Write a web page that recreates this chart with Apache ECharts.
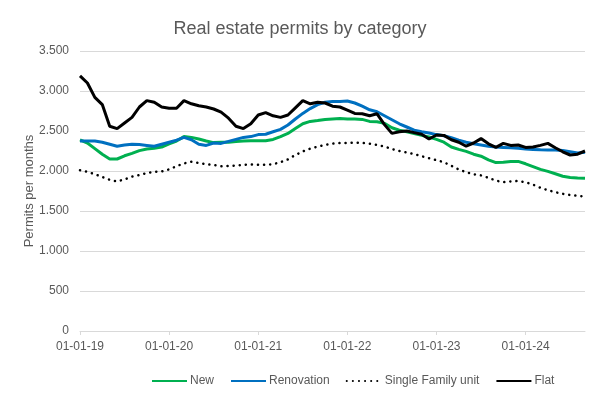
<!DOCTYPE html>
<html>
<head>
<meta charset="utf-8">
<script src="https://cdn.jsdelivr.net/npm/echarts@6/dist/echarts.min.js"></script>
<style>
  html, body { margin: 0; padding: 0; background: #fff; }
  #chart { width: 600px; height: 396px; }
</style>
</head>
<body>
<div id="chart"></div>
<script>
// monthly, Jan 2019 .. Sep 2024
var months = [];
for (var y = 19; y <= 24; y++) {
  for (var m = 1; m <= 12; m++) {
    if (y === 24 && m > 9) break;
    months.push('01-' + (m < 10 ? '0' + m : m) + '-' + y);
  }
}

var newPermits = [
  2390, 2350, 2280, 2210, 2150, 2150, 2190, 2220, 2255, 2275, 2285, 2300,
  2340, 2375, 2430, 2420, 2400, 2375, 2355, 2358, 2358, 2370, 2375, 2378,
  2378, 2378, 2395, 2430, 2470, 2530, 2590, 2620, 2630, 2645, 2650, 2655,
  2650, 2650, 2645, 2620, 2615, 2595, 2540, 2510, 2490, 2468, 2445, 2425,
  2395, 2360, 2300, 2270, 2245, 2210, 2185, 2140, 2105, 2110, 2120, 2120,
  2090, 2055, 2020, 1995, 1965, 1935, 1920, 1912, 1910
];
var renovation = [
  2375, 2375, 2375, 2360, 2335, 2310, 2325, 2335, 2330, 2320, 2310, 2335,
  2360, 2385, 2420, 2390, 2335, 2320, 2350, 2345, 2370, 2395, 2420, 2430,
  2455, 2460, 2490, 2520, 2575, 2650, 2720, 2780, 2830, 2860, 2870, 2870,
  2875, 2850, 2810, 2765, 2740, 2690, 2640, 2590, 2550, 2510, 2490, 2475,
  2455, 2440, 2415, 2385, 2360, 2340, 2325, 2310, 2300, 2295, 2290, 2283,
  2275, 2270, 2265, 2263, 2263, 2255, 2240, 2225, 2235
];
var singleFamily = [
  2010, 1990, 1960, 1925, 1890, 1870, 1895, 1930, 1950, 1975, 1990, 1995,
  2020, 2060, 2095, 2115, 2100, 2085, 2075, 2060, 2063, 2068, 2078, 2082,
  2079, 2077, 2085, 2110, 2145, 2200, 2245, 2280, 2305, 2325, 2342, 2350,
  2350, 2354, 2352, 2342, 2325, 2305, 2275, 2250, 2232, 2212, 2185, 2160,
  2135, 2110, 2065, 2020, 1985, 1960, 1945, 1915, 1880, 1860, 1870, 1875,
  1860, 1830, 1790, 1760, 1735, 1715, 1700, 1690, 1680
];
var flat = [
  3190, 3100, 2920, 2830, 2560, 2530, 2600, 2670, 2800, 2880, 2860, 2800,
  2785, 2785, 2880, 2840, 2815, 2800, 2775, 2735, 2660, 2560, 2530, 2590,
  2700, 2730, 2690, 2670, 2700, 2790, 2880, 2840, 2860, 2850, 2810, 2800,
  2760, 2720, 2715, 2690, 2715, 2580, 2470, 2490, 2500, 2480, 2460, 2400,
  2450, 2445, 2390, 2360, 2310, 2350, 2405, 2340, 2295, 2345, 2320, 2325,
  2295, 2300, 2320, 2345, 2290, 2240, 2200, 2210, 2250
];

var txt = '#595959';
var font = 'Liberation Sans, Arial, sans-serif';

var chart = echarts.init(document.getElementById('chart'));

function fmtThousands(v) {
  return String(v).replace(/\B(?=(\d{3})+(?!\d))/g, '.');
}

chart.setOption({
  animation: false,
  title: {
    text: 'Real estate permits by category',
    left: 'center',
    top: 15,
    textStyle: { color: txt, fontSize: 18, fontWeight: 'normal', fontFamily: font }
  },
  legend: {
    left: 146,
    top: 370,
    itemWidth: 35,
    itemHeight: 12,
    itemGap: 16,
    itemStyle: { opacity: 0 },
    textStyle: { color: txt, fontSize: 12, fontFamily: font, padding: [0, 0, 0, -2] },
    data: ['New', 'Renovation', 'Single Family unit', 'Flat']
  },
  grid: { left: 80, right: 15, top: 51, bottom: 65 },
  xAxis: {
    type: 'category',
    data: months,
    boundaryGap: false,
    axisLine: { lineStyle: { color: '#d9d9d9' } },
    axisTick: { interval: 11, length: 4, lineStyle: { color: '#d9d9d9' } },
    axisLabel: { interval: 11, margin: 10, color: txt, fontSize: 12, fontFamily: font }
  },
  yAxis: {
    type: 'value',
    min: 0,
    max: 3500,
    interval: 500,
    name: 'Permits per months',
    nameLocation: 'middle',
    nameGap: 44,
    nameMoveOverlap: false,
    nameTextStyle: { color: txt, fontSize: 13, fontFamily: font },
    axisLine: { show: false },
    axisTick: { show: false },
    axisLabel: { margin: 11, color: txt, fontSize: 12, fontFamily: font, formatter: fmtThousands },
    splitLine: { lineStyle: { color: '#d9d9d9' } }
  },
  series: [
    {
      name: 'New', type: 'line', data: newPermits, symbol: 'none',
      itemStyle: { color: '#00b050' },
      lineStyle: { color: '#00b050', width: 3 }
    },
    {
      name: 'Renovation', type: 'line', data: renovation, symbol: 'none',
      itemStyle: { color: '#0070c0' },
      lineStyle: { color: '#0070c0', width: 3 }
    },
    {
      name: 'Single Family unit', type: 'line', data: singleFamily, symbol: 'none',
      itemStyle: { color: '#000' },
      lineStyle: { color: '#000', width: 2.5, type: [0.1, 6], cap: 'round' }
    },
    {
      name: 'Flat', type: 'line', data: flat, symbol: 'none',
      itemStyle: { color: '#000' },
      lineStyle: { color: '#000', width: 3 }
    }
  ]
});
</script>
</body>
</html>
